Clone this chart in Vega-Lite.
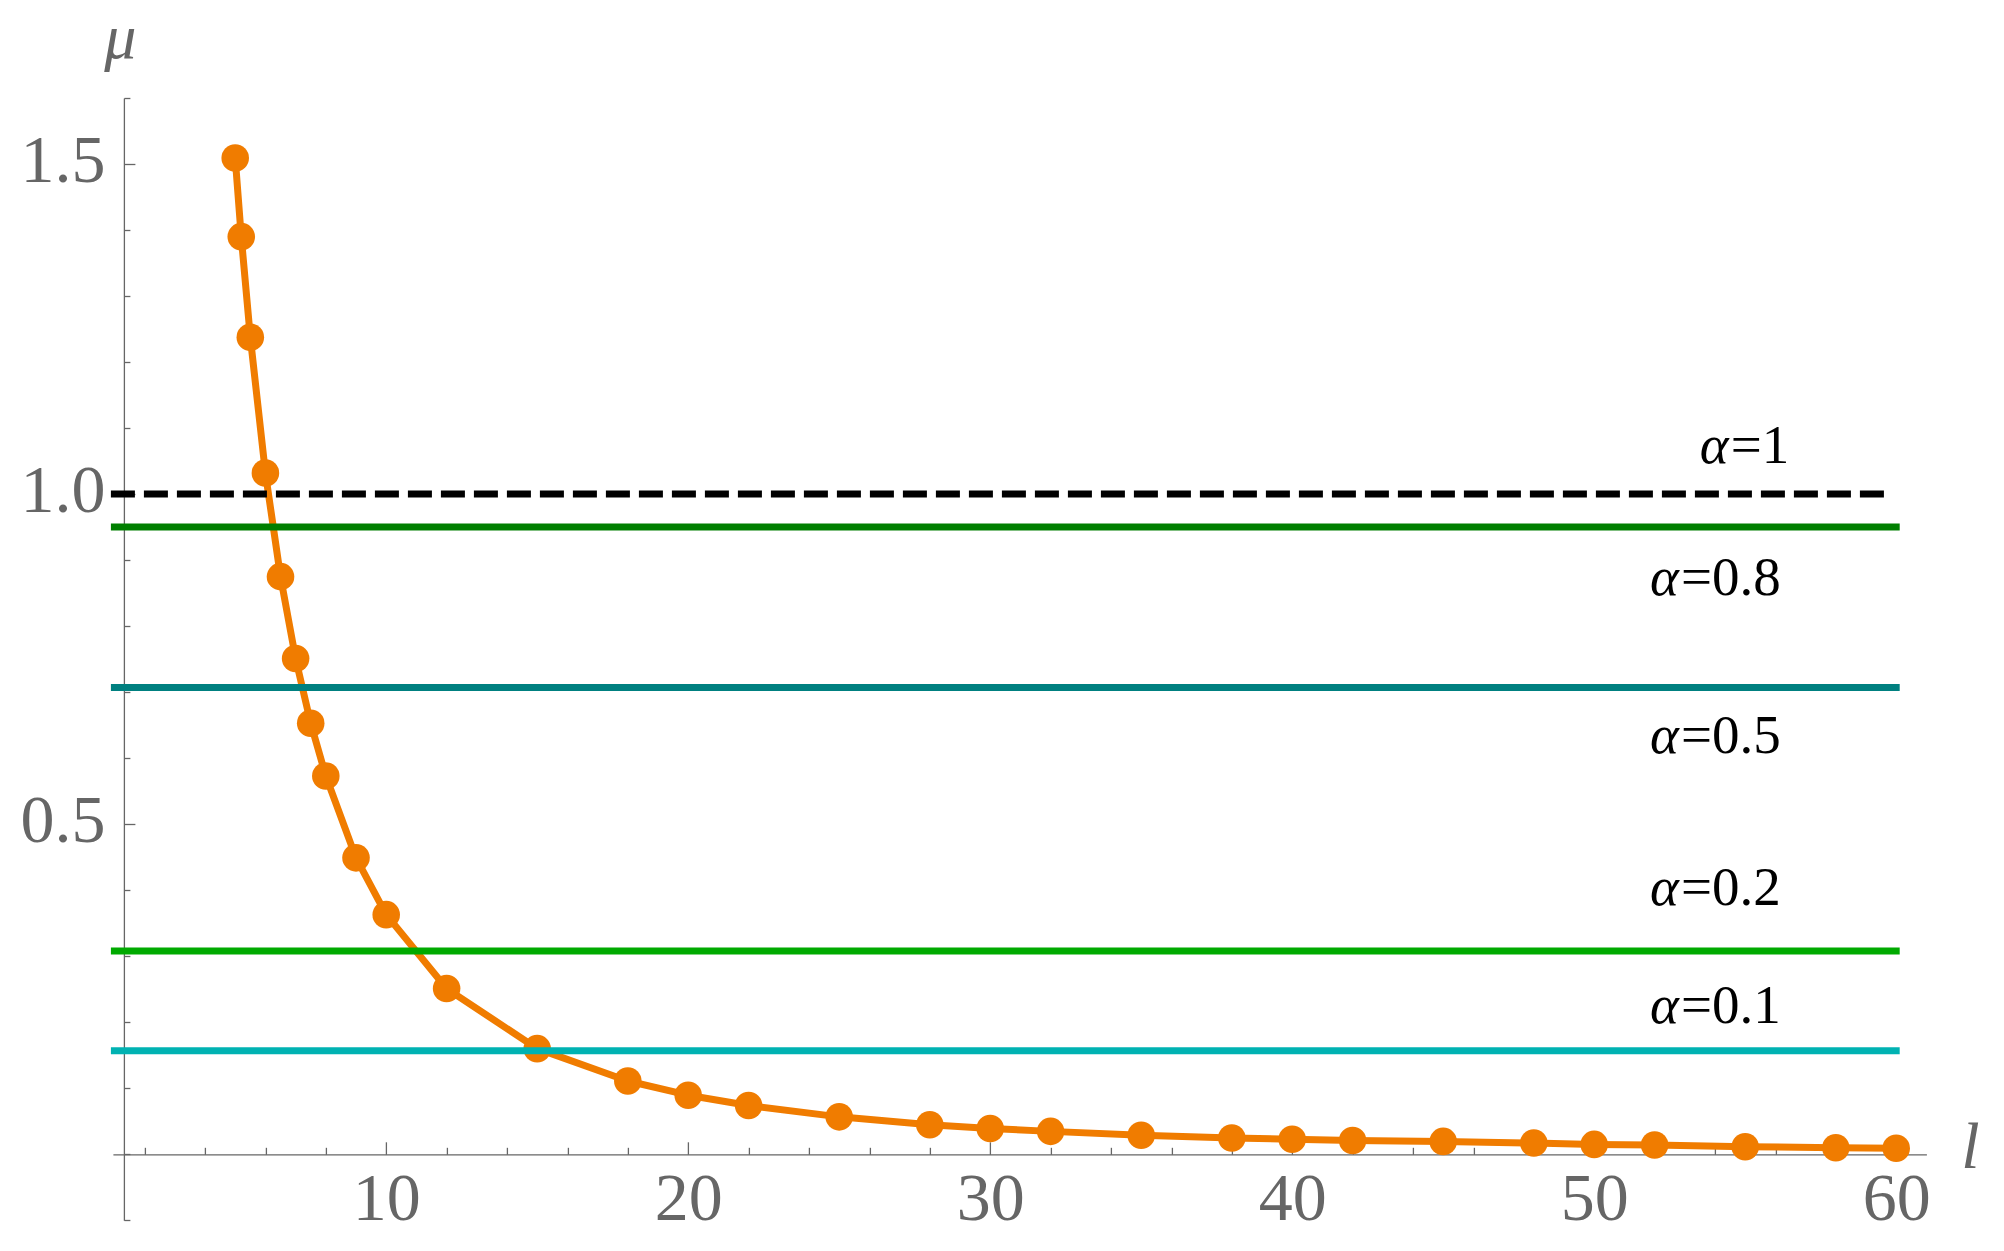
{
  "$schema": "https://vega.github.io/schema/vega-lite/v6.json",
  "width": 1813.5,
  "height": 1122.3,
  "autosize": {"type": "none"},
  "padding": {"left": 112.9, "top": 98, "right": 77.6, "bottom": 30.7},
  "config": {"view": {"stroke": null}, "font": "Liberation Serif, Times New Roman, serif"},
  "datasets": {
    "curve": [
      {"l": 5, "mu": 1.509}, {"l": 5.2, "mu": 1.39}, {"l": 5.5, "mu": 1.2375}, {"l": 6, "mu": 1.032},
      {"l": 6.5, "mu": 0.875}, {"l": 7, "mu": 0.751}, {"l": 7.5, "mu": 0.653}, {"l": 8, "mu": 0.573},
      {"l": 9, "mu": 0.449}, {"l": 10, "mu": 0.363}, {"l": 12, "mu": 0.251}, {"l": 15, "mu": 0.16},
      {"l": 18, "mu": 0.111}, {"l": 20, "mu": 0.0895}, {"l": 22, "mu": 0.0739}, {"l": 25, "mu": 0.0567},
      {"l": 28, "mu": 0.0446}, {"l": 30, "mu": 0.0391}, {"l": 32, "mu": 0.0347}, {"l": 35, "mu": 0.0287},
      {"l": 38, "mu": 0.0248}, {"l": 40, "mu": 0.0229}, {"l": 42, "mu": 0.021}, {"l": 45, "mu": 0.0195},
      {"l": 48, "mu": 0.017}, {"l": 50, "mu": 0.015}, {"l": 52, "mu": 0.014}, {"l": 55, "mu": 0.0115},
      {"l": 58, "mu": 0.01}, {"l": 60, "mu": 0.0091}
    ],
    "levels": [
      {"alpha": "1", "mu": 1.0, "l": 1, "l2": 60},
      {"alpha": "0.8", "mu": 0.95, "l": 1, "l2": 60},
      {"alpha": "0.5", "mu": 0.707, "l": 1, "l2": 60},
      {"alpha": "0.2", "mu": 0.308, "l": 1, "l2": 60},
      {"alpha": "0.1", "mu": 0.157, "l": 1, "l2": 60}
    ],
    "labels": [
      {"sym": "α", "rest": "=1", "l": 54.52, "mu": 1.0476},
      {"sym": "α", "rest": "=0.8", "l": 52.87, "mu": 0.847},
      {"sym": "α", "rest": "=0.5", "l": 52.87, "mu": 0.6083},
      {"sym": "α", "rest": "=0.2", "l": 52.87, "mu": 0.378},
      {"sym": "α", "rest": "=0.1", "l": 52.87, "mu": 0.199}
    ]
  },
  "encoding": {
    "x": {
      "field": "l", "type": "quantitative",
      "scale": {"domain": [0.95, 61.0], "nice": false, "zero": false},
      "axis": {
        "values": [2,4,6,8,10,12,14,16,18,20,22,24,26,28,30,32,34,36,38,40,42,44,46,48,50,52,54,56,58,60],
        "offset": -66,
        "grid": false,
        "domainColor": "#666666", "domainWidth": 1.3,
        "tickColor": "#666666", "tickWidth": 1.3,
        "tickSize": {"condition": {"test": "datum.value % 10 === 0", "value": -12.5}, "value": -7},
        "labelExpr": "datum.value % 10 === 0 ? datum.label : ''",
        "labelFont": "Liberation Serif, Times New Roman, serif", "labelFontSize": 68, "labelColor": "#666666",
        "labelBaseline": "alphabetic", "labelPadding": 78, "labelOverlap": false, "labelFlush": false, "labelBound": false,
        "title": "l", "titleFont": "Liberation Serif, Times New Roman, serif", "titleFontStyle": "italic", "titleFontWeight": "normal",
        "titleFontSize": 66, "titleColor": "#666666", "titleX": 1857, "titleY": 13,
        "titleAlign": "center", "titleBaseline": "alphabetic", "titleAngle": 0
      }
    },
    "y": {
      "field": "mu", "type": "quantitative",
      "scale": {"domain": [-0.1, 1.6], "nice": false, "zero": false},
      "axis": {
        "values": [-0.1,0,0.1,0.2,0.3,0.4,0.5,0.6,0.7,0.8,0.9,1,1.1,1.2,1.3,1.4,1.5,1.6],
        "offset": -11,
        "grid": false,
        "domainColor": "#666666", "domainWidth": 1.3,
        "tickColor": "#666666", "tickWidth": 1.3,
        "tickSize": {"condition": {"test": "datum.value === 0.5 || datum.value === 1 || datum.value === 1.5", "value": -11}, "value": -6},
        "labelExpr": "(datum.value === 0.5 || datum.value === 1 || datum.value === 1.5) ? format(datum.value, '.1f') : ''",
        "labelFont": "Liberation Serif, Times New Roman, serif", "labelFontSize": 68, "labelColor": "#666666",
        "labelBaseline": "alphabetic", "labelOffset": 17, "labelPadding": 30, "labelOverlap": false, "labelFlush": false, "labelBound": false,
        "title": "μ", "titleFont": "Liberation Serif, Times New Roman, serif", "titleFontStyle": "italic", "titleFontWeight": "normal",
        "titleFontSize": 64, "titleColor": "#666666", "titleX": -4, "titleY": -92,
        "titleAlign": "center", "titleBaseline": "top", "titleAngle": 0
      }
    }
  },
  "layer": [
    {
      "data": {"name": "curve"},
      "mark": {"type": "line", "color": "#F07C00", "strokeWidth": 7, "strokeJoin": "round"}
    },
    {
      "data": {"name": "curve"},
      "mark": {"type": "point", "filled": true, "shape": "circle", "size": 760, "color": "#F07C00", "opacity": 1, "strokeWidth": 0}
    },
    {
      "data": {"name": "levels"},
      "transform": [{"filter": "datum.alpha !== '1'"}],
      "mark": {"type": "rule", "strokeWidth": 7, "strokeCap": "square"},
      "encoding": {
        "x2": {"field": "l2"},
        "color": {
          "field": "alpha", "type": "nominal", "legend": null,
          "scale": {"domain": ["0.8", "0.5", "0.2", "0.1"], "range": ["#007F00", "#008080", "#00AA00", "#00B2B2"]}
        }
      }
    },
    {
      "data": {"name": "levels"},
      "transform": [{"filter": "datum.alpha === '1'"}],
      "mark": {"type": "rule", "strokeWidth": 7, "strokeCap": "square", "strokeDash": [17, 16], "color": "#000000"},
      "encoding": {
        "x2": {"field": "l2"}
      }
    },
    {
      "data": {"name": "labels"},
      "mark": {"type": "text", "font": "Liberation Serif, Times New Roman, serif", "fontStyle": "italic", "fontSize": 55, "align": "right", "baseline": "alphabetic", "dx": -2, "color": "#000000"},
      "encoding": {
        "text": {"field": "sym"}
      }
    },
    {
      "data": {"name": "labels"},
      "mark": {"type": "text", "font": "Liberation Serif, Times New Roman, serif", "fontSize": 55, "align": "left", "baseline": "alphabetic", "color": "#000000"},
      "encoding": {
        "text": {"field": "rest"}
      }
    }
  ]
}
